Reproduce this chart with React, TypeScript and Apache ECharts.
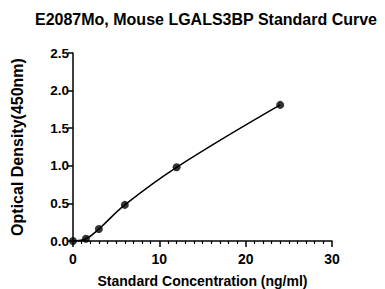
import React, { useEffect, useRef } from "react";
import * as echarts from "echarts";

const concentrations = [0, 1.5, 3, 6, 12, 24];
const densities = [0.0, 0.03, 0.16, 0.48, 0.98, 1.81];
const xTicks = [0, 10, 20, 30];
const yTicks = [0, 0.5, 1.0, 1.5, 2.0, 2.5];
const titleText = "E2087Mo, Mouse LGALS3BP Standard Curve";
const xName = "Standard Concentration (ng/ml)";
const yName = "Optical Density(450nm)";

const FONT = "'Liberation Sans', Arial, sans-serif";

export default function App() {
  const ref = useRef<HTMLDivElement>(null);
  useEffect(() => {
    if (!ref.current) return;
    const chart = echarts.init(ref.current, null, { renderer: "svg" });
    const pts = concentrations.map((c, i) => [c, densities[i]]);
    chart.setOption({
      animation: false,
      backgroundColor: "#ffffff",
      title: {
        text: titleText,
        left: 35,
        top: 11,
        padding: 0,
        textStyle: { fontFamily: FONT, fontSize: 16, fontWeight: "bold", color: "#000" },
      },
      grid: {
        left: 73,
        right: 53,
        top: 53,
        bottom: 48,
        containLabel: false,
        outerBoundsMode: "none",
      },
      xAxis: {
        type: "value",
        min: xTicks[0],
        max: xTicks[xTicks.length - 1],
        interval: 10,
        name: xName,
        nameLocation: "middle",
        nameGap: 33,
        nameTextStyle: { fontFamily: FONT, fontSize: 14, fontWeight: "bold", color: "#000" },
        axisLine: { lineStyle: { color: "#000", width: 1.5 } },
        axisTick: { show: true, length: 6, lineStyle: { color: "#000", width: 1.5 } },
        minorTick: { show: true, splitNumber: 10, length: 3, lineStyle: { color: "#000", width: 1.2 } },
        axisLabel: { fontFamily: FONT, fontSize: 14, fontWeight: "bold", color: "#000", margin: 11 },
        splitLine: { show: false },
      },
      yAxis: {
        type: "value",
        min: yTicks[0],
        max: yTicks[yTicks.length - 1],
        interval: 0.5,
        name: yName,
        nameLocation: "middle",
        nameGap: 48,
        nameRotate: 90,
        nameTextStyle: { fontFamily: FONT, fontSize: 16, fontWeight: "bold", color: "#000" },
        axisLine: { show: true, lineStyle: { color: "#000", width: 1.5 } },
        axisTick: { show: true, length: 5, lineStyle: { color: "#000", width: 1.5 } },
        axisLabel: {
          fontFamily: FONT,
          fontSize: 13.5,
          fontWeight: "bold",
          color: "#000",
          margin: 4,
          formatter: (v: number) => v.toFixed(1),
        },
        splitLine: { show: false },
      },
      series: [
        {
          type: "line",
          data: pts,
          smooth: 0.4,
          showSymbol: false,
          lineStyle: { color: "#000", width: 1.5 },
          z: 2,
        },
        {
          type: "scatter",
          data: pts,
          symbol: "circle",
          symbolSize: 8,
          itemStyle: { color: "#000" },
          z: 3,
        },
      ],
    });
    return () => chart.dispose();
  }, []);
  return <div ref={ref} style={{ width: 385, height: 289, position: "absolute", left: 0, top: 0 }} />;
}
